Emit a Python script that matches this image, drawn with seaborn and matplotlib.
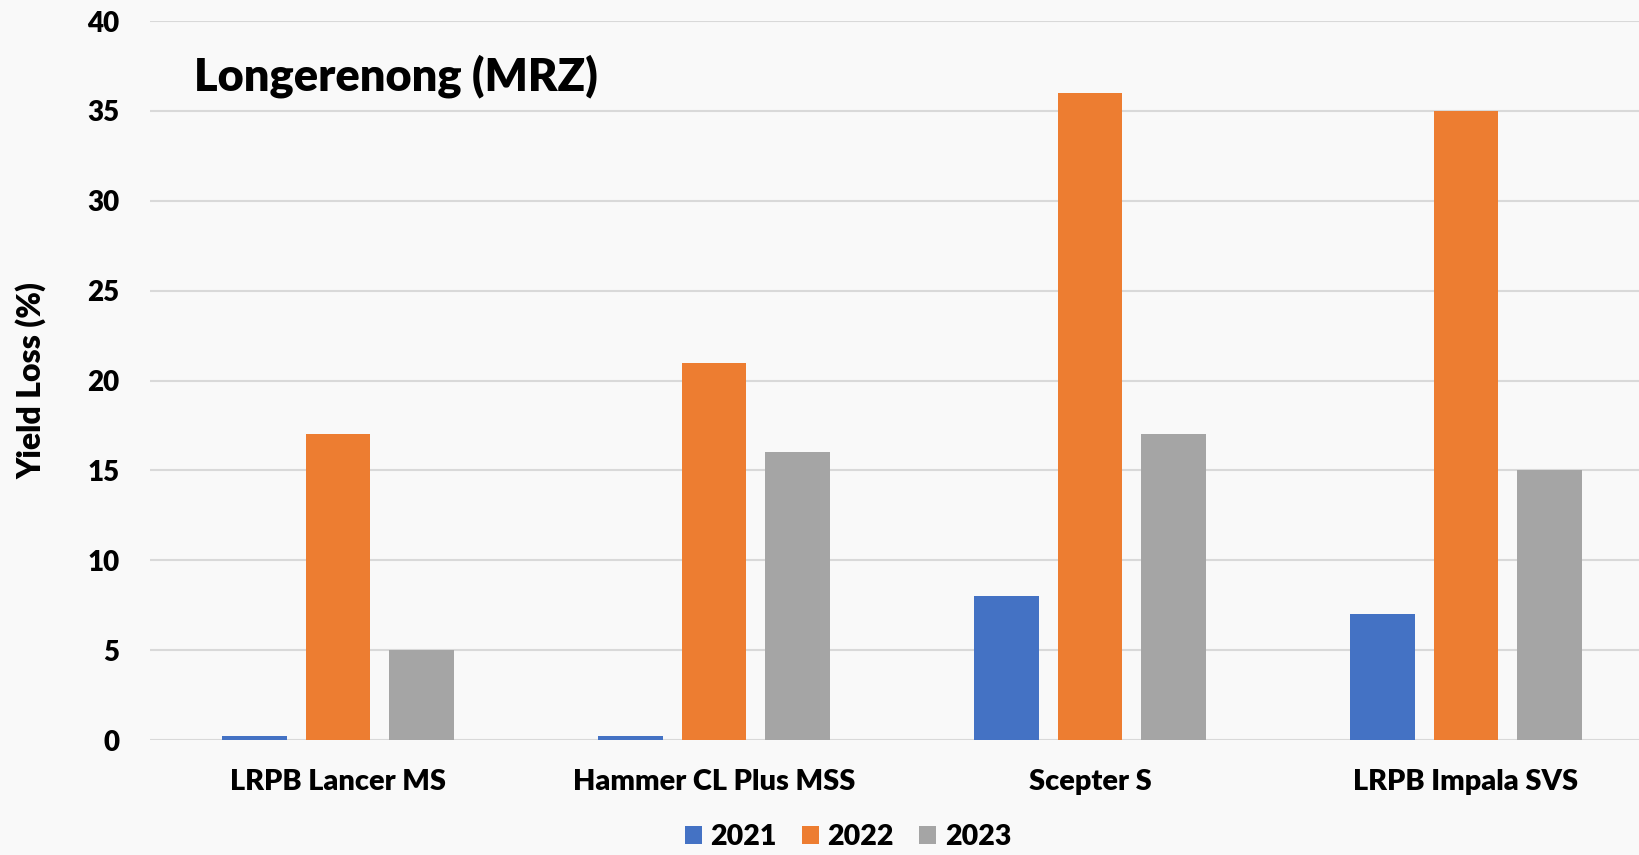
import pandas as pd
import matplotlib
matplotlib.use("Agg")
import matplotlib.pyplot as plt
import seaborn as sns

# data
varieties = ["LRPB Lancer MS", "Hammer CL Plus MSS", "Scepter S", "LRPB Impala SVS"]
years = ["2021", "2022", "2023"]
loss_2021 = [0.2, 0.2, 8, 7]
loss_2022 = [17, 21, 36, 35]
loss_2023 = [5, 16, 17, 15]
colors = ["#4472C4", "#ED7D31", "#A5A5A5"]

sns.set_style("white")
W = "heavy"
plt.rcParams.update({
    "font.family": ["Lato", "DejaVu Sans"],
    "font.weight": W,
    "text.color": "black",
})

df = pd.DataFrame({
    "variety": varieties * 3,
    "year": [y for y in years for _ in varieties],
    "loss": loss_2021 + loss_2022 + loss_2023,
})

bg = "#f9f9f9"
fig = plt.figure(figsize=(16.4, 8.55), dpi=100, facecolor=bg)
ax = fig.add_axes([150 / 1640, 115 / 855, 1504 / 1640, 719 / 855])
ax.set_facecolor(bg)

sns.barplot(data=df, x="variety", y="loss", hue="year", palette=colors,
            saturation=1, width=0.664, gap=0.22, linewidth=0, ax=ax)

ax.set_xlim(-0.5, 3.5)
ax.set_ylim(0, 40)
ax.set_yticks(range(0, 41, 5))
ax.yaxis.grid(True, color="#d9d9d9", linewidth=1.5)
ax.set_axisbelow(True)
for s in ax.spines.values():
    s.set_visible(False)
ax.tick_params(axis="y", length=0, pad=22, labelsize=20, labelcolor="black")
ax.tick_params(axis="x", length=0, pad=21, labelsize=20.8, labelcolor="black")
for lab in ax.get_xticklabels() + ax.get_yticklabels():
    lab.set_fontweight(W)
ax.set_xlabel("")
ax.set_ylabel("")

fig.text(31 / 1640, 1 - 381 / 855, "Yield Loss (%)", rotation=90,
         ha="center", va="center", fontsize=23, fontweight=W)
fig.text(194 / 1640, 1 - 90 / 855, "Longerenong (MRZ)", ha="left",
         va="baseline", fontsize=32.5, fontweight=W)

handles, labels = ax.get_legend_handles_labels()
ax.get_legend().remove()
fig.legend(handles, labels, loc="lower center", bbox_to_anchor=(848 / 1640, 0.006),
           ncol=3, frameon=False, handlelength=0.6, handleheight=0.6,
           handletextpad=0.3, columnspacing=0.88, borderpad=0, borderaxespad=0,
           prop={"weight": W, "size": 20.5})

fig.savefig("out.png", dpi=100, facecolor=bg)
